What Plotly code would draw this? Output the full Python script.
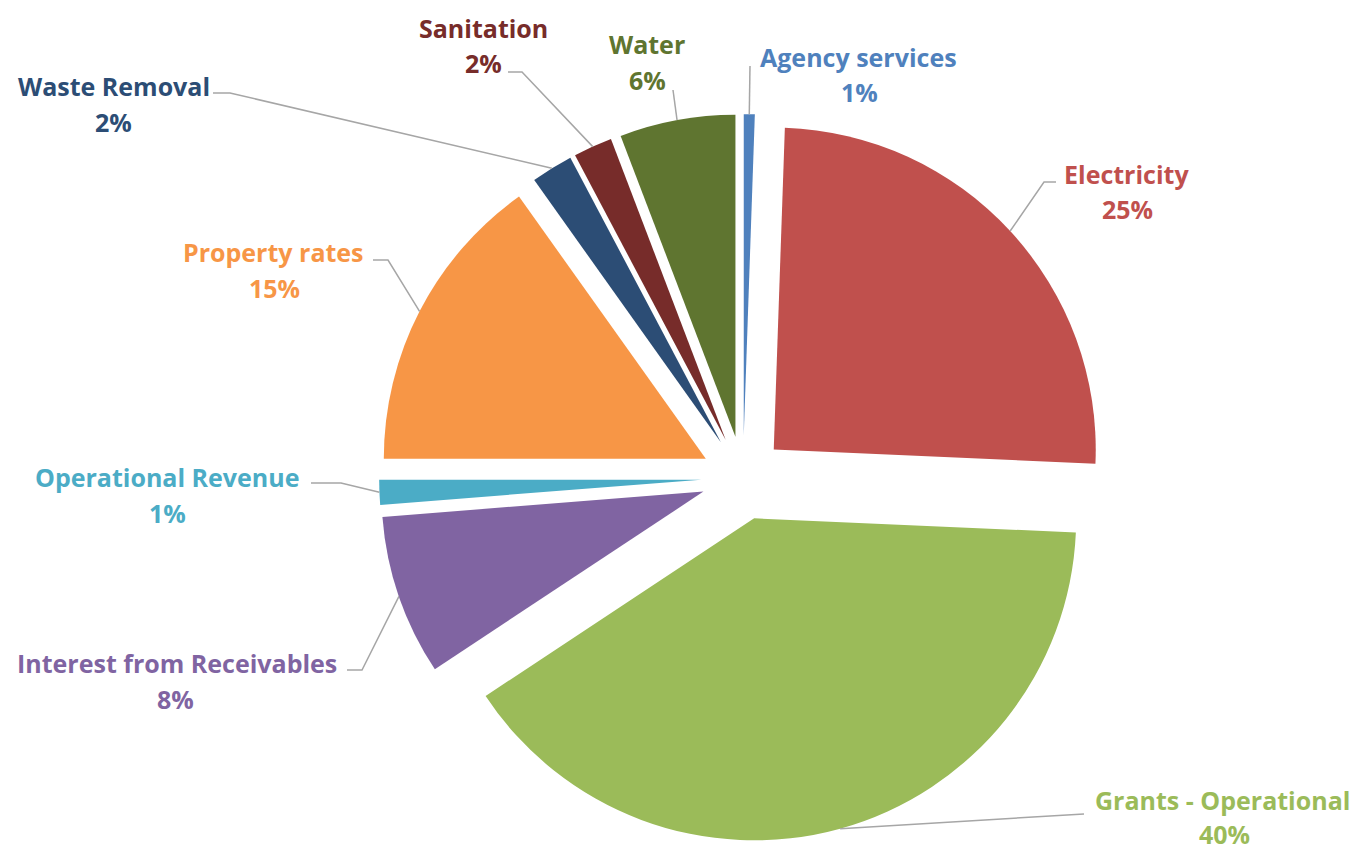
import plotly.graph_objects as go
import math

# ---------------- data ----------------
categories = [
    "Agency services",
    "Electricity",
    "Grants - Operational",
    "Interest from Receivables",
    "Operational Revenue",
    "Property rates",
    "Waste Removal",
    "Sanitation",
    "Water",
]
values = [0.55, 25.15, 40.0, 8.05, 1.25, 15.15, 2.1, 1.95, 5.8]

colors = [
    "#4F81BD",
    "#C0504D",
    "#9BBB59",
    "#8064A2",
    "#4BACC6",
    "#F79646",
    "#2C4D75",
    "#772C2A",
    "#5F7530",
]

# ---------------- layout / style ----------------
W, H = 1364, 851
CX, CY = 743, 478       # pie centre (px)
R = 322                 # pie radius (px)
PULL = 0.13             # explosion (fraction of radius)
FONT = "Open Sans"
FSIZE = 25
LINE_COLOR = "#A6A6A6"

# label placement per slice (px): name centre, percent centre, leader end, elbow offset
label_name_pos = [(858, 57), (1126, 174), (1222, 800), (177, 663), (167, 477),
                  (273, 252), (114, 86), (483, 28), (647, 44)]
label_pct_pos = [(859, 92), (1127, 209), (1224, 834), (175, 699), (167, 513),
                 (274, 288), (113, 122), (483, 63), (647, 80)]
leader_end = [(750, 66), (1056, 182), (1084, 814), (347, 670), (311, 483),
              (373, 260), (213, 93), (508, 72), (673, 90)]
leader_elbow = [0, -12, 0, 15, 30, 15, 17, 14, 0]

# pie domain so that centre/radius land where wanted
box = 2 * R * (1 + PULL)
yc = 1 - CY / H
xc = CX / W
dom_y = [yc - box / 2 / H, yc + box / 2 / H]
dom_x = [xc - 0.3, xc + 0.3]

fig = go.Figure()
fig.add_trace(go.Pie(
    labels=categories,
    values=values,
    sort=False,
    direction="clockwise",
    rotation=0,
    pull=[PULL] * len(values),
    marker=dict(colors=colors, line=dict(width=0)),
    textinfo="none",
    hoverinfo="label+percent",
    showlegend=False,
    domain=dict(x=dom_x, y=dom_y),
))

total = sum(values)


def px2paper(x, y):
    return x / W, 1 - y / H


annotations = []
shapes = []
cum = 0.0
for i, (cat, v) in enumerate(zip(categories, values)):
    mid = (cum + v / 2) / total * 2 * math.pi
    cum += v
    rr = R * (1 + PULL)
    ax_px = CX + rr * math.sin(mid)
    ay_px = CY - rr * math.cos(mid)
    pct = round(v / total * 100)

    nx, ny = px2paper(*label_name_pos[i])
    annotations.append(dict(
        x=nx, y=ny, xref="paper", yref="paper", text=cat, showarrow=False,
        xanchor="center", yanchor="middle",
        font=dict(family=FONT, size=FSIZE, color=colors[i], weight="bold"),
    ))
    qx, qy = px2paper(*label_pct_pos[i])
    annotations.append(dict(
        x=qx, y=qy, xref="paper", yref="paper", text=f"{pct}%", showarrow=False,
        xanchor="center", yanchor="middle",
        font=dict(family=FONT, size=FSIZE, color=colors[i], weight="bold"),
    ))

    ex, ey = leader_end[i]
    pts = [(ax_px, ay_px)]
    if leader_elbow[i]:
        pts.append((ex + leader_elbow[i], ey))
    pts.append((ex, ey))
    pp = [px2paper(x, y) for x, y in pts]
    path = "M " + " L ".join(f"{x:.5f},{y:.5f}" for x, y in pp)
    shapes.append(dict(type="path", path=path, xref="paper", yref="paper",
                       line=dict(color=LINE_COLOR, width=1.5)))

fig.update_layout(
    width=W, height=H,
    margin=dict(l=0, r=0, t=0, b=0),
    paper_bgcolor="white",
    plot_bgcolor="white",
    annotations=annotations,
    shapes=shapes,
    showlegend=False,
)

fig.write_html("out.html")
